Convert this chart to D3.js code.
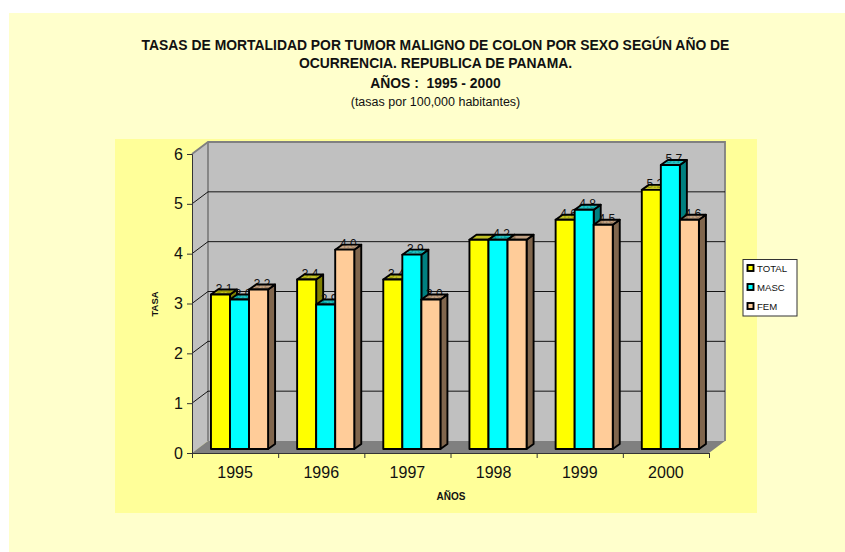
<!DOCTYPE html>
<html lang="es">
<head>
<meta charset="utf-8">
<title>Tasas de mortalidad por tumor maligno de colon</title>
<script src="https://cdnjs.cloudflare.com/ajax/libs/d3/7.8.5/d3.min.js"></script>
<style>
  html, body { margin: 0; padding: 0; background: #fff; }
  svg { display: block; }
  text { font-family: "Liberation Sans", Arial, sans-serif; fill: #111; }
</style>
</head>
<body>
<svg id="chart" width="845" height="552"></svg>
<script>
// Rates per 100,000 inhabitants, by year and sex
const years = ["1995", "1996", "1997", "1998", "1999", "2000"];
const seriesNames = ["TOTAL", "MASC", "FEM"];
const totalRates = [3.1, 3.4, 3.4, 4.2, 4.6, 5.2];
const mascRates = [3.0, 2.9, 3.9, 4.2, 4.8, 5.7];
const femRates = [3.2, 4.0, 3.0, 4.2, 4.5, 4.6];
const yTicks = [0, 1, 2, 3, 4, 5, 6];
const unlabelledBars = ["1998-TOTAL", "1998-FEM"];
const titleLines = [
  "TASAS DE MORTALIDAD POR TUMOR MALIGNO DE COLON POR SEXO SEGÚN AÑO DE",
  "OCURRENCIA. REPUBLICA DE PANAMA.",
  "AÑOS :  1995 - 2000"
];
const subtitle = "(tasas por 100,000 habitantes)";

const seriesValues = [totalRates, mascRates, femRates];
const faceColors = {
  TOTAL: { front: "#ffff00", top: "#c0c000", side: "#808000" },
  MASC: { front: "#00ffff", top: "#00c0c0", side: "#008080" },
  FEM: { front: "#ffcc99", top: "#c09a74", side: "#80664d" }
};

// Plot box in page pixels; the back wall is shifted by the box depth
const plot = { left: 192, right: 709, bottom: 453, top: 154, depthX: 16, depthY: 12 };
const barDepth = { x: 7, y: 5 };
const barLift = 4;

const svg = d3.select("#chart");

// Page and chart-area backgrounds
svg.append("rect").attr("x", 9).attr("y", 13).attr("width", 836).attr("height", 539).attr("fill", "#ffffcc");
svg.append("rect").attr("x", 115).attr("y", 139).attr("width", 642).attr("height", 374).attr("fill", "#ffff99");

const x = d3.scaleBand().domain(years).range([plot.left, plot.right]);
const y = d3.scaleLinear().domain([0, 6]).range([plot.bottom, plot.top]);
const xInner = d3.scaleBand().domain(seriesNames)
  .range([x.bandwidth() * 0.22, x.bandwidth() * 0.883]);

const poly = pts => pts.map(p => p.join(",")).join(" ");
const backX = plot.left + plot.depthX;
const backRight = plot.right + plot.depthX;
const back = v => y(v) - plot.depthY;

// Walls and floor of the box
const box = svg.append("g");
box.append("polygon")
  .attr("points", poly([[plot.left, y(6)], [backX, back(6)], [backX, back(0)], [plot.left, y(0)]]))
  .attr("fill", "#c0c0c0");
box.append("rect")
  .attr("x", backX).attr("y", back(6))
  .attr("width", backRight - backX).attr("height", back(0) - back(6))
  .attr("fill", "#c0c0c0");
box.append("polygon")
  .attr("points", poly([[plot.left, y(0)], [backX, back(0)], [backRight, back(0)], [plot.right, y(0)]]))
  .attr("fill", "#808080");
box.append("path")
  .attr("d", `M${plot.left},${y(6)}L${backX},${back(6)}H${backRight}V${back(0)}`)
  .attr("fill", "none").attr("stroke", "#808080").attr("stroke-width", 1.8);
box.append("line")
  .attr("x1", backX).attr("x2", backX).attr("y1", back(6)).attr("y2", back(0))
  .attr("stroke", "#808080").attr("stroke-width", 1.8);

// Gridlines run along the left wall and across the back wall
const grid = svg.append("g").attr("fill", "none").attr("stroke", "#000").attr("stroke-width", 0.9);
yTicks.filter(t => t > 0 && t < 6).forEach(t => {
  grid.append("path").attr("d", `M${plot.left},${y(t)}L${backX},${back(t)}H${backRight}`);
});

// Axes
const yAxis = d3.axisLeft(y).tickValues(yTicks).tickSize(5).tickPadding(4).tickFormat(d3.format("d"));
const gy = svg.append("g").attr("transform", `translate(${plot.left},0)`).call(yAxis);
gy.selectAll("text").style("font-size", "16px");

const xAxis = d3.axisBottom(d3.scaleLinear().domain([0, years.length]).range([plot.left, plot.right]))
  .ticks(years.length).tickSize(5).tickFormat("");
const gx = svg.append("g").attr("transform", `translate(0,${plot.bottom})`).call(xAxis);
[gx, gy].forEach(g => {
  g.selectAll("path, line").attr("stroke", "#333").attr("stroke-width", 1);
});

svg.append("g").selectAll("text").data(years).join("text")
  .attr("x", d => x(d) + x.bandwidth() / 2)
  .attr("y", 478)
  .attr("text-anchor", "middle")
  .style("font-size", "16px")
  .text(d => d);

// Bars are painted one by one: each label sits behind its own bar top
const bars = svg.append("g");
years.forEach((year, i) => {
  seriesNames.forEach((name, s) => {
    const v = seriesValues[s][i];
    const colors = faceColors[name];
    const x0 = x(year) + xInner(name);
    const x1 = x0 + xInner.bandwidth();
    const yTop = y(v) - barLift;
    const yBase = y(0) - barLift;
    const g = bars.append("g");
    if (!unlabelledBars.includes(`${year}-${name}`)) {
      g.append("text")
        .attr("x", (x0 + x1) / 2 + barDepth.x / 2)
        .attr("y", yTop - 1.5)
        .attr("text-anchor", "middle")
        .style("font-size", "12px")
        .text(v.toFixed(1));
    }
    const edge = sel => sel.attr("stroke", "#000").attr("stroke-width", 1.9).attr("stroke-linejoin", "round");
    g.append("polygon")
      .attr("points", poly([[x1, yTop], [x1 + barDepth.x, yTop - barDepth.y], [x1 + barDepth.x, yBase - barDepth.y], [x1, yBase]]))
      .attr("fill", colors.side).call(edge);
    g.append("polygon")
      .attr("points", poly([[x0, yTop], [x0 + barDepth.x, yTop - barDepth.y], [x1 + barDepth.x, yTop - barDepth.y], [x1, yTop]]))
      .attr("fill", colors.top).attr("fill-opacity", 0.8).call(edge);
    g.append("rect")
      .attr("x", x0).attr("y", yTop)
      .attr("width", x1 - x0).attr("height", yBase - yTop)
      .attr("fill", colors.front).call(edge);
  });
});

// Title block
const title = svg.append("g").attr("text-anchor", "middle");
title.selectAll("text.line").data(titleLines).join("text")
  .attr("class", "line")
  .attr("x", 435.5)
  .attr("y", (d, i) => [50, 68, 88][i])
  .style("font-size", "13.9px")
  .style("font-weight", "bold")
  .style("white-space", "pre")
  .text(d => d);
title.append("text")
  .attr("x", 435.5).attr("y", 105.5)
  .style("font-size", "12.5px")
  .text(subtitle);

// Axis titles
svg.append("text")
  .attr("transform", "translate(158,304) rotate(-90)")
  .attr("text-anchor", "middle")
  .style("font-size", "9.5px").style("font-weight", "bold")
  .text("TASA");
svg.append("text")
  .attr("x", 451).attr("y", 500)
  .attr("text-anchor", "middle")
  .style("font-size", "10px").style("font-weight", "bold")
  .text("AÑOS");

// Legend
const legend = svg.append("g");
legend.append("rect")
  .attr("x", 743).attr("y", 259.5).attr("width", 54).attr("height", 56.5)
  .attr("fill", "#fff").attr("stroke", "#333").attr("stroke-width", 1);
const legendRows = legend.selectAll("g").data(seriesNames).join("g")
  .attr("transform", (d, i) => `translate(0,${268 + i * 19})`);
legendRows.append("rect")
  .attr("x", 747.5).attr("y", -3).attr("width", 6).attr("height", 6)
  .attr("fill", d => faceColors[d].front)
  .attr("stroke", "#000").attr("stroke-width", 1.9);
legendRows.append("text")
  .attr("x", 757).attr("y", 3.5)
  .style("font-size", "9.6px")
  .text(d => d);
</script>
</body>
</html>
